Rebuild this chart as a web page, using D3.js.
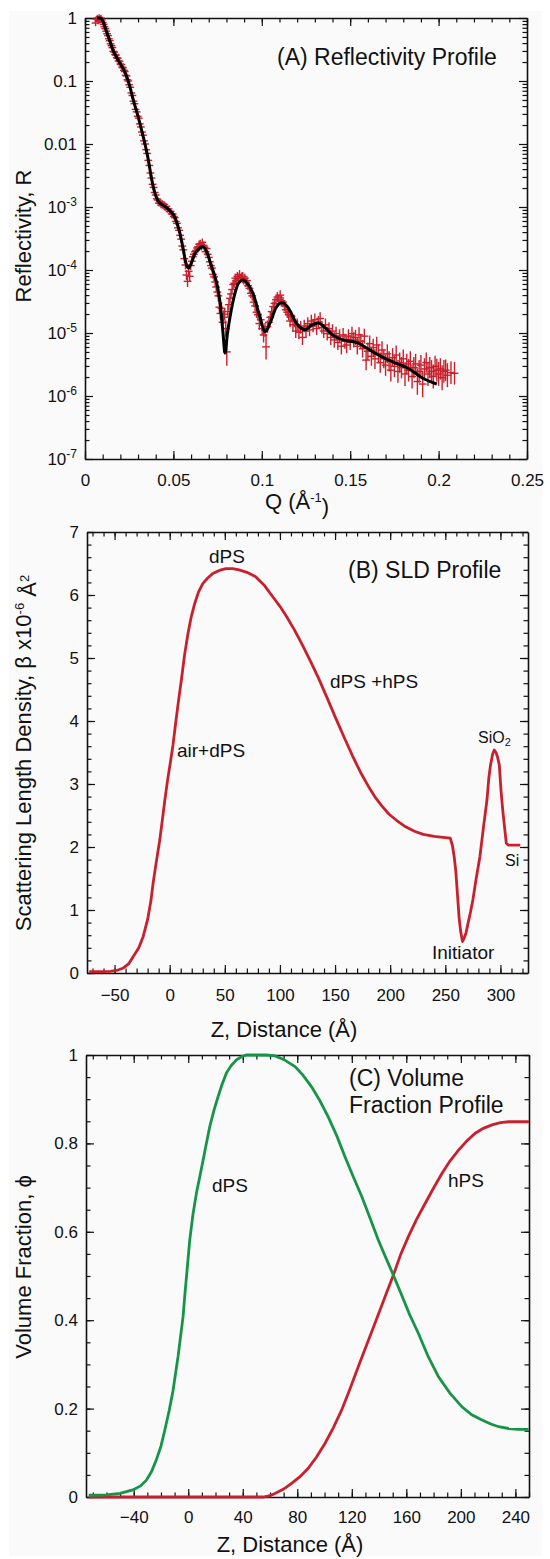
<!DOCTYPE html>
<html lang="en">
<head>
  <meta charset="UTF-8">
  <title>Reflectivity, SLD and Volume Fraction Profiles</title>
  <script src="https://d3js.org/d3.v7.min.js"></script>
</head>

<body>

  <div id="chart"></div>

  <style>
    body { margin: 0; background: #fff; }
    svg text { font-family: "Liberation Sans", Arial, Helvetica, sans-serif; fill: #111; }
  </style>

  <script type="text/javascript">

  // ---------- (A) reflectivity: [Q, log10 R, half error bar in decades] ----------
  var reflPoints = [
    [0.0060,-0.08,.05],[0.0065,-0.02,.05],[0.0070,0.00,.05],[0.0075,-0.05,.05],[0.0080,0.01,.05],[0.0085,-0.03,.05],[0.0090,0.00,.05],[0.0095,-0.03,.05],
    [0.0100,-0.07,.05],[0.0105,-0.10,.05],[0.0110,-0.14,.05],[0.0115,-0.17,.05],[0.0120,-0.21,.05],[0.0125,-0.25,.05],[0.0130,-0.28,.05],[0.0135,-0.33,.05],
    [0.0140,-0.36,.05],[0.0145,-0.41,.05],[0.0150,-0.44,.05],[0.0155,-0.47,.05],[0.0160,-0.53,.05],[0.0165,-0.54,.05],[0.0170,-0.58,.05],[0.0175,-0.59,.05],
    [0.0180,-0.63,.05],[0.0185,-0.64,.05],[0.0190,-0.68,.05],[0.0195,-0.69,.05],[0.0200,-0.73,.05],[0.0205,-0.74,.05],[0.0210,-0.78,.05],[0.0215,-0.79,.05],
    [0.0220,-0.83,.05],[0.0225,-0.85,.05],[0.0230,-0.91,.05],[0.0235,-0.92,.05],[0.0240,-0.98,.05],[0.0245,-1.00,.05],[0.0250,-1.06,.05],[0.0256,-1.10,.05],
    [0.0262,-1.19,.05],[0.0268,-1.23,.05],[0.0274,-1.32,.05],[0.0280,-1.36,.05],[0.0286,-1.45,.05],[0.0292,-1.49,.05],[0.0298,-1.56,.05],[0.0304,-1.59,.05],
    [0.0310,-1.68,.05],[0.0316,-1.73,.05],[0.0322,-1.81,.05],[0.0328,-1.86,.05],[0.0334,-1.95,.05],[0.0340,-2.00,.05],[0.0346,-2.09,.05],[0.0352,-2.15,.05],
    [0.0358,-2.26,.05],[0.0364,-2.34,.05],[0.0370,-2.46,.05],[0.0376,-2.54,.05],[0.0382,-2.64,.05],[0.0388,-2.69,.05],[0.0394,-2.77,.05],[0.0400,-2.81,.05],
    [0.0406,-2.87,.05],[0.0412,-2.89,.05],[0.0418,-2.94,.05],[0.0424,-2.92,.05],[0.0430,-2.97,.05],[0.0436,-2.94,.05],[0.0442,-2.98,.05],[0.0448,-2.96,.05],
    [0.0454,-3.01,.05],[0.0460,-2.99,.05],[0.0466,-3.04,.05],[0.0472,-3.03,.05],[0.0478,-3.07,.05],[0.0484,-3.07,.05],[0.0490,-3.11,.05],[0.0496,-3.11,.05],
    [0.0502,-3.15,.05],[0.0508,-3.17,.05],[0.0514,-3.23,.05],[0.0520,-3.26,.05],[0.0526,-3.33,.05],[0.0532,-3.37,.05],[0.0538,-3.45,.06],[0.0544,-3.51,.06],
    [0.0550,-3.62,.06],[0.0556,-3.68,.06],[0.0562,-3.82,.07],[0.0568,-3.92,.07],[0.0574,-4.08,.08],[0.0580,-4.18,.09],[0.0586,-4.02,.08],[0.0592,-4.10,.08],
    [0.0598,-3.93,.07],[0.0604,-3.86,.07],[0.0610,-3.79,.06],[0.0616,-3.75,.06],[0.0622,-3.71,.06],[0.0628,-3.69,.06],[0.0634,-3.65,.06],[0.0640,-3.63,.06],
    [0.0646,-3.59,.06],[0.0652,-3.58,.06],[0.0658,-3.63,.06],[0.0664,-3.56,.06],[0.0670,-3.61,.06],[0.0676,-3.64,.06],[0.0682,-3.71,.06],[0.0688,-3.66,.06],
    [0.0694,-3.75,.06],[0.0700,-3.80,.06],[0.0706,-3.87,.07],[0.0712,-3.93,.07],[0.0718,-3.97,.07],[0.0724,-4.07,.07],[0.0730,-4.11,.07],[0.0736,-4.19,.08],
    [0.0742,-4.27,.08],[0.0748,-4.35,.08],[0.0754,-4.41,.09],[0.0760,-4.59,.10],[0.0766,-4.69,.10],[0.0772,-4.61,.10],[0.0778,-4.83,.12],[0.0784,-4.75,.11],
    [0.0790,-4.70,.10],[0.0796,-4.93,.13],[0.0802,-5.30,.22],[0.0808,-4.66,.10],[0.0814,-4.55,.09],[0.0820,-4.45,.08],[0.0826,-4.38,.08],[0.0832,-4.31,.07],
    [0.0838,-4.23,.07],[0.0844,-4.21,.07],[0.0850,-4.13,.07],[0.0856,-4.17,.07],[0.0862,-4.10,.07],[0.0868,-4.13,.07],[0.0874,-4.07,.07],[0.0880,-4.14,.07],
    [0.0886,-4.11,.07],[0.0892,-4.10,.07],[0.0898,-4.16,.07],[0.0904,-4.13,.07],[0.0910,-4.20,.07],[0.0916,-4.17,.07],[0.0922,-4.25,.07],[0.0930,-4.29,.08],
    [0.0938,-4.37,.08],[0.0946,-4.41,.08],[0.0954,-4.51,.08],[0.0962,-4.57,.09],[0.0970,-4.67,.09],[0.0978,-4.71,.09],[0.0986,-4.85,.10],[0.0994,-4.79,.10],
    [0.1002,-4.93,.11],[0.1010,-5.03,.12],[0.1018,-4.95,.11],[0.1024,-5.22,.20],[0.1032,-4.90,.10],[0.1040,-4.83,.10],[0.1048,-4.75,.09],[0.1056,-4.66,.09],
    [0.1064,-4.58,.08],[0.1072,-4.53,.08],[0.1080,-4.47,.08],[0.1088,-4.43,.08],[0.1096,-4.47,.08],[0.1104,-4.40,.08],[0.1112,-4.49,.08],[0.1120,-4.51,.08],
    [0.1128,-4.57,.08],[0.1136,-4.63,.09],[0.1144,-4.67,.09],[0.1152,-4.71,.09],[0.1160,-4.81,.10],[0.1168,-4.74,.09],[0.1176,-4.87,.10],[0.1184,-4.81,.10],
    [0.1192,-4.97,.11],[0.1200,-4.87,.10],[0.1210,-4.99,.11],[0.1220,-4.91,.10],[0.1230,-5.07,.12],[0.1240,-4.89,.10],[0.1250,-4.97,.11],[0.1260,-4.85,.10],
    [0.1270,-4.95,.10],[0.1280,-4.81,.10],[0.1290,-4.89,.10],[0.1300,-4.79,.10],[0.1310,-4.93,.10],[0.1320,-4.83,.10],[0.1330,-4.77,.10],[0.1340,-4.91,.10],
    [0.1350,-4.97,.11],[0.1360,-4.87,.10],[0.1370,-5.01,.11],[0.1380,-4.93,.10],[0.1390,-5.07,.12],[0.1400,-4.97,.11],[0.1410,-5.11,.12],[0.1420,-5.01,.11],
    [0.1430,-5.15,.12],[0.1440,-5.05,.11],[0.1450,-5.21,.13],[0.1460,-5.03,.11],[0.1470,-5.13,.12],[0.1480,-5.19,.13],[0.1490,-5.05,.11],[0.1500,-5.15,.12],
    [0.1510,-5.01,.11],[0.1520,-5.11,.12],[0.1530,-5.07,.12],[0.1540,-5.21,.13],[0.1550,-5.03,.12],[0.1560,-5.13,.12],[0.1570,-5.25,.14],[0.1580,-5.05,.12],
    [0.1590,-5.43,.16],[0.1600,-5.29,.14],[0.1610,-5.17,.13],[0.1620,-5.37,.15],[0.1630,-5.23,.14],[0.1640,-5.41,.16],[0.1650,-5.19,.13],[0.1660,-5.33,.15],
    [0.1670,-5.47,.16],[0.1680,-5.27,.14],[0.1690,-5.41,.15],[0.1700,-5.51,.17],[0.1710,-5.33,.15],[0.1720,-5.45,.16],[0.1730,-5.59,.18],[0.1740,-5.39,.15],
    [0.1750,-5.53,.17],[0.1760,-5.35,.15],[0.1770,-5.61,.18],[0.1780,-5.47,.16],[0.1790,-5.55,.17],[0.1800,-5.41,.15],[0.1810,-5.65,.19],[0.1820,-5.49,.16],
    [0.1830,-5.59,.18],[0.1840,-5.45,.16],[0.1850,-5.69,.19],[0.1860,-5.55,.17],[0.1870,-5.49,.16],[0.1880,-5.77,.21],[0.1890,-5.61,.18],[0.1900,-5.51,.16],
    [0.1910,-5.81,.21],[0.1920,-5.57,.17],[0.1930,-5.47,.16],[0.1940,-5.65,.19],[0.1950,-5.55,.17],[0.1960,-5.61,.18],[0.1970,-5.69,.19],[0.1980,-5.53,.17],
    [0.1990,-5.59,.18],[0.2000,-5.65,.19],[0.2010,-5.57,.17],[0.2020,-5.71,.20],[0.2030,-5.61,.18],[0.2040,-5.59,.17],[0.2050,-5.67,.19],[0.2070,-5.63,.18],
    [0.2090,-5.64,.18]
  ];
  var qResolution = 0.0022;   // half width of the Q error bars

  // model fit (black line)
  var fitQ = [0.0068,0.0085,0.0100,0.0120,0.0140,0.0158,0.0180,0.0200,0.0226,0.0250,0.0273,0.0300,0.0320,0.0340,0.0358,
    0.0372,0.0386,0.0400,0.0415,0.0440,0.0462,0.0480,0.0500,0.0520,0.0537,0.0555,0.0570,0.0584,0.0600,0.0620,0.0645,
    0.0668,0.0690,0.0707,0.0730,0.0750,0.0764,0.0780,0.0792,0.0805,0.0820,0.0848,0.0870,0.0894,0.0920,0.0950,0.0990,
    0.1018,0.1047,0.1080,0.1114,0.1150,0.1190,0.1244,0.1280,0.1318,0.1360,0.1400,0.1460,0.1500,0.1546,0.1600,0.1680,
    0.1750,0.1828,0.1906,0.1990];
  var fitLogR = [0.0,0.0,-0.04,-0.20,-0.36,-0.51,-0.63,-0.73,-0.86,-1.05,-1.30,-1.56,-1.78,-2.01,-2.25,
    -2.48,-2.68,-2.82,-2.91,-2.97,-3.01,-3.06,-3.12,-3.25,-3.42,-3.66,-3.88,-3.97,-3.90,-3.75,-3.66,
    -3.63,-3.72,-3.87,-4.06,-4.27,-4.52,-4.98,-5.32,-5.02,-4.75,-4.37,-4.20,-4.16,-4.22,-4.37,-4.75,
    -4.98,-4.84,-4.60,-4.52,-4.60,-4.82,-4.95,-4.88,-4.84,-4.92,-5.03,-5.11,-5.13,-5.16,-5.25,-5.38,
    -5.47,-5.56,-5.71,-5.81];

  // ---------- (B) SLD profile ----------
  var sldZ = [-73,-62,-54,-48,-42,-37,-33,-28,-24,-20,-17,-15,-12,-9,-6.5,-4.5,-2,0.5,3,5.5,8,10.6,13.5,16.6,19.5,22.6,
    26,30,34.5,39,45,51,57,63,70,78,86,94,100,106,113,120,128,135,143,150,158,166,173.6,180,186,192,199,206,214,222,
    230,240,250,254.5,256.5,258,259.5,261,262.5,264,265.6,267,268.7,271,273,275,278,281.4,284.5,287.8,289.5,291,293,
    294.4,296,297.5,299,300.5,302,303.7,305.3,307,312,318];
  var sldValue = [0.02,0.02,0.025,0.04,0.08,0.15,0.26,0.40,0.58,0.85,1.15,1.43,1.78,2.11,2.45,2.73,3.05,3.33,3.62,3.98,4.32,4.65,
    5.05,5.39,5.65,5.86,6.04,6.18,6.27,6.34,6.39,6.42,6.42,6.40,6.36,6.29,6.15,5.96,5.82,5.66,5.45,5.22,4.94,4.68,4.36,
    4.07,3.75,3.44,3.17,2.97,2.80,2.66,2.52,2.42,2.32,2.25,2.20,2.17,2.15,2.14,2.02,1.85,1.62,1.25,0.88,0.65,0.50,0.55,
    0.63,0.82,0.98,1.16,1.5,1.85,2.3,2.75,3.1,3.3,3.48,3.54,3.5,3.42,3.3,2.9,2.6,2.32,2.06,2.03,2.03,2.03];

  // ---------- (C) volume fraction profile ----------
  var dpsZ = [-73,-60,-50,-40.6,-35,-30.7,-27,-23.4,-20,-17.3,-14,-11.2,-7.5,-3.8,-2.6,1.1,3.5,6,8.5,10.9,13.3,15.8,18.8,
    21.9,25,28,31.5,35.4,39,42.8,50,57,63.6,70,78.3,84,90.5,96.5,102.7,109,115,121,127.3,133.5,139.5,145,150.5,156.7,
    162.5,168.9,176,183.6,192,200.8,208,215.5,222,227.7,235,242,249.7];
  var dpsPhi = [0.004,0.005,0.008,0.016,0.025,0.038,0.057,0.084,0.115,0.15,0.195,0.24,0.317,0.408,0.453,0.581,0.64,0.687,
    0.725,0.762,0.8,0.838,0.874,0.906,0.935,0.959,0.976,0.989,0.996,1.0,1.0,1.0,0.998,0.99,0.974,0.955,0.928,0.897,0.86,
    0.817,0.77,0.725,0.68,0.63,0.581,0.541,0.502,0.456,0.412,0.37,0.318,0.272,0.235,0.204,0.186,0.174,0.165,0.159,0.155,
    0.153,0.153];
  var hpsZ = [-73,0,40,55,60,63.6,70,75.8,82,88,94,100.3,106.5,112.6,118.7,124.8,131,137,144.4,150.5,156,161.5,167.5,
    173.8,180,186.1,192,198.3,204.5,210.6,216.5,222.8,229,235.1,249.8];
  var hpsPhi = [0,0,0,0,0.003,0.008,0.018,0.031,0.046,0.065,0.09,0.121,0.157,0.197,0.245,0.295,0.345,0.393,0.453,0.502,
    0.55,0.589,0.628,0.664,0.699,0.732,0.76,0.785,0.806,0.823,0.834,0.842,0.847,0.849,0.849];

  // ---------- setup ----------
  var w = 550, h = 1559;
  var red = "#c8202c", green = "#169447", ink = "#111";

  var svg = d3.select('#chart')
    .append('svg')
    .attr('width', w)
    .attr('height', h);

  svg.append("rect")
    .attr("x", 9).attr("y", 11)
    .attr("width", 533).attr("height", 1545)
    .attr("fill", "#fafafa");

  // frame with inward ticks on all four sides
  function drawFrame(x, y, o) {
    var x0 = x.range()[0], x1 = x.range()[1];
    var yb = y.range()[0], yt = y.range()[1];
    var g = svg.append("g");

    function minor(axis, tx, ty) {
      g.append("g")
        .attr("transform", "translate(" + tx + "," + ty + ")")
        .call(axis.tickSize(-4.5).tickFormat(""))
        .call(s => s.select(".domain").remove());
    }
    minor(d3.axisBottom(x).tickValues(o.xMinor), 0, yb);
    minor(d3.axisTop(x).tickValues(o.xMinor), 0, yt);
    minor(d3.axisLeft(y).tickValues(o.yMinor), x0, 0);
    minor(d3.axisRight(y).tickValues(o.yMinor), x1, 0);

    var gx = g.append("g")
      .attr("transform", "translate(0," + yb + ")")
      .call(d3.axisBottom(x).tickValues(o.xMajor).tickSize(-8).tickSizeOuter(0)
        .tickPadding(o.xPad).tickFormat(o.xFormat));
    g.append("g")
      .attr("transform", "translate(0," + yt + ")")
      .call(d3.axisTop(x).tickValues(o.xMajor).tickSize(-8).tickSizeOuter(0).tickFormat(""));
    var gy = g.append("g")
      .attr("transform", "translate(" + x0 + ",0)")
      .call(d3.axisLeft(y).tickValues(o.yMajor).tickSize(-8).tickSizeOuter(0)
        .tickPadding(8).tickFormat(o.yFormat));
    g.append("g")
      .attr("transform", "translate(" + x1 + ",0)")
      .call(d3.axisRight(y).tickValues(o.yMajor).tickSize(-8).tickSizeOuter(0).tickFormat(""));

    g.selectAll(".domain").attr("stroke", ink).attr("stroke-width", 1.6);
    g.selectAll(".tick line").attr("stroke", ink).attr("stroke-width", 1.2);
    g.selectAll("text").attr("font-size", "17px").attr("font-family", null).attr("fill", ink);
    return {gx: gx, gy: gy};
  }

  function yTitle(x, y, build) {
    var t = svg.append("text")
      .attr("transform", "translate(" + x + "," + y + ") rotate(-90)")
      .attr("text-anchor", "middle")
      .attr("font-size", "22px");
    build(t);
  }

  function label(x, y, str, size, color) {
    return svg.append("text")
      .attr("x", x).attr("y", y)
      .attr("font-size", size + "px")
      .attr("fill", color || ink)
      .text(str);
  }

  var fmt = d3.format("~g");

  // ---------- (A) ----------
  var xA = d3.scaleLinear().domain([0, 0.25]).range([85, 527]);
  var yA = d3.scaleLog().domain([1e-7, 1]).range([459, 18]);

  var decades = d3.range(-7, 1).map(k => Math.pow(10, k));
  var logMinor = [];
  d3.range(-7, 0).forEach(k => d3.range(2, 10).forEach(m => logMinor.push(m * Math.pow(10, k))));

  var axA = drawFrame(xA, yA, {
    xMajor: d3.range(0, 0.2501, 0.05), xMinor: d3.range(0, 0.2501, 0.01),
    yMajor: decades, yMinor: logMinor,
    xPad: 15, xFormat: fmt, yFormat: fmt
  });
  axA.gy.selectAll(".tick text").each(function(d) {
    var e = Math.round(Math.log10(d));
    if (e < -2) {
      var t = d3.select(this).text("10");
      t.append("tspan").attr("dy", "-0.55em").attr("font-size", "12px").text(e);
    }
  });

  var pts = svg.append("g")
    .attr("stroke", red)
    .attr("stroke-width", 1.4);
  var cross = pts.selectAll("g.pt")
    .data(reflPoints)
    .enter()
    .append("g")
    .attr("class", "pt");
  cross.append("line")
    .attr("x1", d => xA(d[0] - qResolution)).attr("x2", d => xA(d[0] + qResolution))
    .attr("y1", d => yA(Math.pow(10, d[1]))).attr("y2", d => yA(Math.pow(10, d[1])));
  cross.append("line")
    .attr("x1", d => xA(d[0])).attr("x2", d => xA(d[0]))
    .attr("y1", d => yA(Math.pow(10, d[1] - d[2]))).attr("y2", d => yA(Math.pow(10, d[1] + d[2])));

  var fitLine = d3.line()
    .x((d, i) => xA(fitQ[i]))
    .y(d => yA(Math.pow(10, d)))
    .curve(d3.curveMonotoneX);
  svg.append("path")
    .attr("d", fitLine(fitLogR))
    .attr("fill", "none")
    .attr("stroke", "#000")
    .attr("stroke-width", 3);

  label(277, 65, "(A) Reflectivity Profile", 23);
  yTitle(31, 236, t => t.text("Reflectivity, R"));
  var qt = svg.append("text").attr("x", 297).attr("y", 509)
    .attr("text-anchor", "middle").attr("font-size", "22px").text("Q (Å");
  qt.append("tspan").attr("dy", "-0.55em").attr("font-size", "13px").text("-1");
  qt.append("tspan").attr("dy", "0.55em").text(")");

  // ---------- (B) ----------
  var xB = d3.scaleLinear().domain([-75, 325]).range([87, 528]);
  var yB = d3.scaleLinear().domain([0, 7]).range([973, 532]);

  drawFrame(xB, yB, {
    xMajor: d3.range(-50, 301, 50), xMinor: d3.range(-70, 321, 10),
    yMajor: d3.range(0, 8), yMinor: d3.range(0, 7.01, 0.2),
    xPad: 16, xFormat: fmt, yFormat: fmt
  });

  var sldLine = d3.line()
    .x((d, i) => xB(sldZ[i]))
    .y(d => yB(d));
  svg.append("path")
    .attr("d", sldLine(sldValue))
    .attr("fill", "none")
    .attr("stroke", red)
    .attr("stroke-width", 2.8)
    .attr("stroke-linejoin", "round");

  label(348, 578, "(B) SLD Profile", 23);
  label(209, 563, "dPS", 19);
  label(177, 757, "air+dPS", 19);
  label(330, 688, "dPS +hPS", 19);
  var sio = label(478, 743, "SiO", 16);
  sio.append("tspan").attr("dy", "0.3em").attr("font-size", "11px").text("2");
  label(505, 866, "Si", 16);
  label(432, 959, "Initiator", 19);

  yTitle(31, 753, t => {
    t.text("Scattering Length Density, β x10");
    t.append("tspan").attr("dy", "-0.55em").attr("font-size", "13px").text("-6");
    t.append("tspan").attr("dy", "0.55em").text(" Å");
    t.append("tspan").attr("dy", "-0.55em").attr("font-size", "13px").text("2");
  });
  svg.append("text").attr("x", 284).attr("y", 1037)
    .attr("text-anchor", "middle").attr("font-size", "22px").text("Z, Distance (Å)");

  // ---------- (C) ----------
  var xC = d3.scaleLinear().domain([-75, 250]).range([86, 529]);
  var yC = d3.scaleLinear().domain([0, 1]).range([1497, 1055]);

  drawFrame(xC, yC, {
    xMajor: d3.range(-40, 241, 40), xMinor: d3.range(-70, 251, 10),
    yMajor: d3.range(0, 1.01, 0.2), yMinor: d3.range(0, 1.01, 0.05),
    xPad: 14, xFormat: fmt, yFormat: fmt
  });

  var dpsLine = d3.line().x((d, i) => xC(dpsZ[i])).y(d => yC(d));
  var hpsLine = d3.line().x((d, i) => xC(hpsZ[i])).y(d => yC(d));
  svg.append("path")
    .attr("d", hpsLine(hpsPhi))
    .attr("fill", "none").attr("stroke", red).attr("stroke-width", 2.8);
  svg.append("path")
    .attr("d", dpsLine(dpsPhi))
    .attr("fill", "none").attr("stroke", green).attr("stroke-width", 2.8);

  label(349, 1086, "(C) Volume", 23);
  label(349, 1113, "Fraction Profile", 23);
  label(212, 1192, "dPS", 19, green);
  label(448, 1187, "hPS", 19, red);

  yTitle(31, 1267, t => t.text("Volume Fraction, ϕ"));
  svg.append("text").attr("x", 290).attr("y", 1552)
    .attr("text-anchor", "middle").attr("font-size", "22px").text("Z, Distance (Å)");

  </script>
</body>
</html>
